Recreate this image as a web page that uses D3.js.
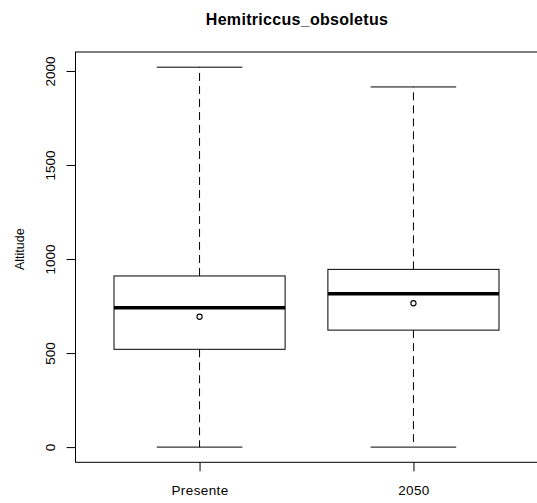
<!DOCTYPE html>
<html>
<head>
<meta charset="utf-8">
<script src="https://cdn.jsdelivr.net/npm/d3@7"></script>
<style>
    body { margin: 0; background: #fff; }
    text { font-family: "Liberation Sans", Arial, sans-serif; fill: #000; }
</style>
</head>
<body>
<div id="chart"></div>
<script>
// Dados
var groups          =   ['Presente', '2050'];
var whisker_min     =   [0, 0];
var q1              =   [520, 622];
var medians         =   [741, 816];
var q3              =   [910, 945];
var whisker_max     =   [2020, 1915];
var means           =   [693, 765];
var y_ticks         =   [0, 500, 1000, 1500, 2000];

// Criar SVG
var chart_width     =   537;
var chart_height    =   503;
var plot_left       =   75.5;
var plot_right      =   537.5;
var plot_top        =   52;
var plot_bottom     =   462.3;
var svg             =   d3.select( '#chart' )
    .append( 'svg' )
    .attr( 'width', chart_width )
    .attr( 'height', chart_height );

// Criar escalas (como o R: xlim 0.5..n+0.5 e 4% de folga)
var x_range = [0.5, groups.length + 0.5];
var x_pad   = (x_range[1] - x_range[0]) * 0.04;
var x_scale = d3.scaleLinear()
    .domain([x_range[0] - x_pad, x_range[1] + x_pad])
    .range([plot_left, plot_right]);

var y_min = d3.min(whisker_min);
var y_max = d3.max(whisker_max);
var y_pad = (y_max - y_min) * 0.04;
var y_scale = d3.scaleLinear()
    .domain([y_min - y_pad, y_max + y_pad])
    .range([plot_bottom, plot_top]);

var rows = groups.map(function( g, i ){
    return { name: g, pos: i + 1, lo: whisker_min[i], q1: q1[i], med: medians[i],
             q3: q3[i], hi: whisker_max[i], mean: means[i] };
});

// Bigodes tracejados
var box = svg.selectAll( 'g.box' )
    .data( rows )
    .enter()
    .append( 'g' )
    .attr( 'class', 'box' );

box.append( 'line' )
    .attr( 'x1', function( d ){ return x_scale(d.pos); } )
    .attr( 'x2', function( d ){ return x_scale(d.pos); } )
    .attr( 'y1', function( d ){ return y_scale(d.q3); } )
    .attr( 'y2', function( d ){ return y_scale(d.hi); } )
    .attr( 'stroke', '#000' )
    .attr( 'stroke-dasharray', '8,5' );

box.append( 'line' )
    .attr( 'x1', function( d ){ return x_scale(d.pos); } )
    .attr( 'x2', function( d ){ return x_scale(d.pos); } )
    .attr( 'y1', function( d ){ return y_scale(d.q1); } )
    .attr( 'y2', function( d ){ return y_scale(d.lo); } )
    .attr( 'stroke', '#000' )
    .attr( 'stroke-dasharray', '8,5' );

// Extremos
['hi', 'lo'].forEach(function( k ){
    box.append( 'line' )
        .attr( 'x1', function( d ){ return x_scale(d.pos - 0.2); } )
        .attr( 'x2', function( d ){ return x_scale(d.pos + 0.2); } )
        .attr( 'y1', function( d ){ return y_scale(d[k]); } )
        .attr( 'y2', function( d ){ return y_scale(d[k]); } )
        .attr( 'stroke', '#000' );
});

// Caixas
box.append( 'rect' )
    .attr( 'x', function( d ){ return x_scale(d.pos - 0.4); } )
    .attr( 'y', function( d ){ return y_scale(d.q3); } )
    .attr( 'width', function( d ){ return x_scale(d.pos + 0.4) - x_scale(d.pos - 0.4); } )
    .attr( 'height', function( d ){ return y_scale(d.q1) - y_scale(d.q3); } )
    .attr( 'fill', '#fff' )
    .attr( 'stroke', '#000' );

// Medianas
box.append( 'line' )
    .attr( 'x1', function( d ){ return x_scale(d.pos - 0.4); } )
    .attr( 'x2', function( d ){ return x_scale(d.pos + 0.4); } )
    .attr( 'y1', function( d ){ return y_scale(d.med); } )
    .attr( 'y2', function( d ){ return y_scale(d.med); } )
    .attr( 'stroke', '#000' )
    .attr( 'stroke-width', 3.5 );

// Medias
box.append( 'circle' )
    .attr( 'cx', function( d ){ return x_scale(d.pos); } )
    .attr( 'cy', function( d ){ return y_scale(d.mean); } )
    .attr( 'r', 2.6 )
    .attr( 'fill', 'none' )
    .attr( 'stroke', '#000' )
    .attr( 'stroke-width', 1.1 );

// Moldura
svg.append( 'rect' )
    .attr( 'x', plot_left )
    .attr( 'y', plot_top )
    .attr( 'width', plot_right - plot_left )
    .attr( 'height', plot_bottom - plot_top )
    .attr( 'fill', 'none' )
    .attr( 'stroke', '#000' );

// Eixo y
var y_axis = svg.append( 'g' )
    .attr( 'transform', 'translate(' + plot_left + ',0)' )
    .call( d3.axisLeft(y_scale).tickValues(y_ticks).tickFormat(d3.format('d')).tickSize(9).tickSizeOuter(0) );
y_axis.select( '.domain' ).remove();
y_axis.selectAll( 'line' ).attr( 'stroke', '#000' );
y_axis.selectAll( 'text' )
    .attr( 'transform', 'rotate(-90)' )
    .attr( 'x', 0 )
    .attr( 'y', -21 )
    .attr( 'dy', 0 )
    .attr( 'text-anchor', 'middle' )
    .attr( 'font-size', 13.5 )
    .attr( 'font-family', null )
    .attr( 'fill', '#000' );

// Eixo x
var x_axis = svg.append( 'g' )
    .attr( 'transform', 'translate(0,' + plot_bottom + ')' )
    .call( d3.axisBottom(x_scale)
        .tickValues(rows.map(function( d ){ return d.pos; }))
        .tickFormat(function( d ){ return groups[d - 1]; })
        .tickSize(9).tickSizeOuter(0) );
x_axis.select( '.domain' ).remove();
x_axis.selectAll( 'line' ).attr( 'stroke', '#000' );
x_axis.selectAll( 'text' )
    .attr( 'y', 33 )
    .attr( 'dy', 0 )
    .attr( 'font-size', 13.5 )
    .attr( 'letter-spacing', 0.4 )
    .attr( 'font-family', null )
    .attr( 'fill', '#000' );

// Titulos
svg.append( 'text' )
    .text( 'Hemitriccus_obsoletus' )
    .attr( 'x', 297 )
    .attr( 'y', 25 )
    .attr( 'font-size', 16 )
    .attr( 'font-weight', 'bold' )
    .attr( 'letter-spacing', 0.3 )
    .attr( 'text-anchor', 'middle' );

svg.append( 'text' )
    .text( 'Altitude' )
    .attr( 'transform', 'translate(24,' + ((plot_top + plot_bottom) / 2 - 8) + ') rotate(-90)' )
    .attr( 'font-size', 12.5 )
    .attr( 'text-anchor', 'middle' );
</script>
</body>
</html>
